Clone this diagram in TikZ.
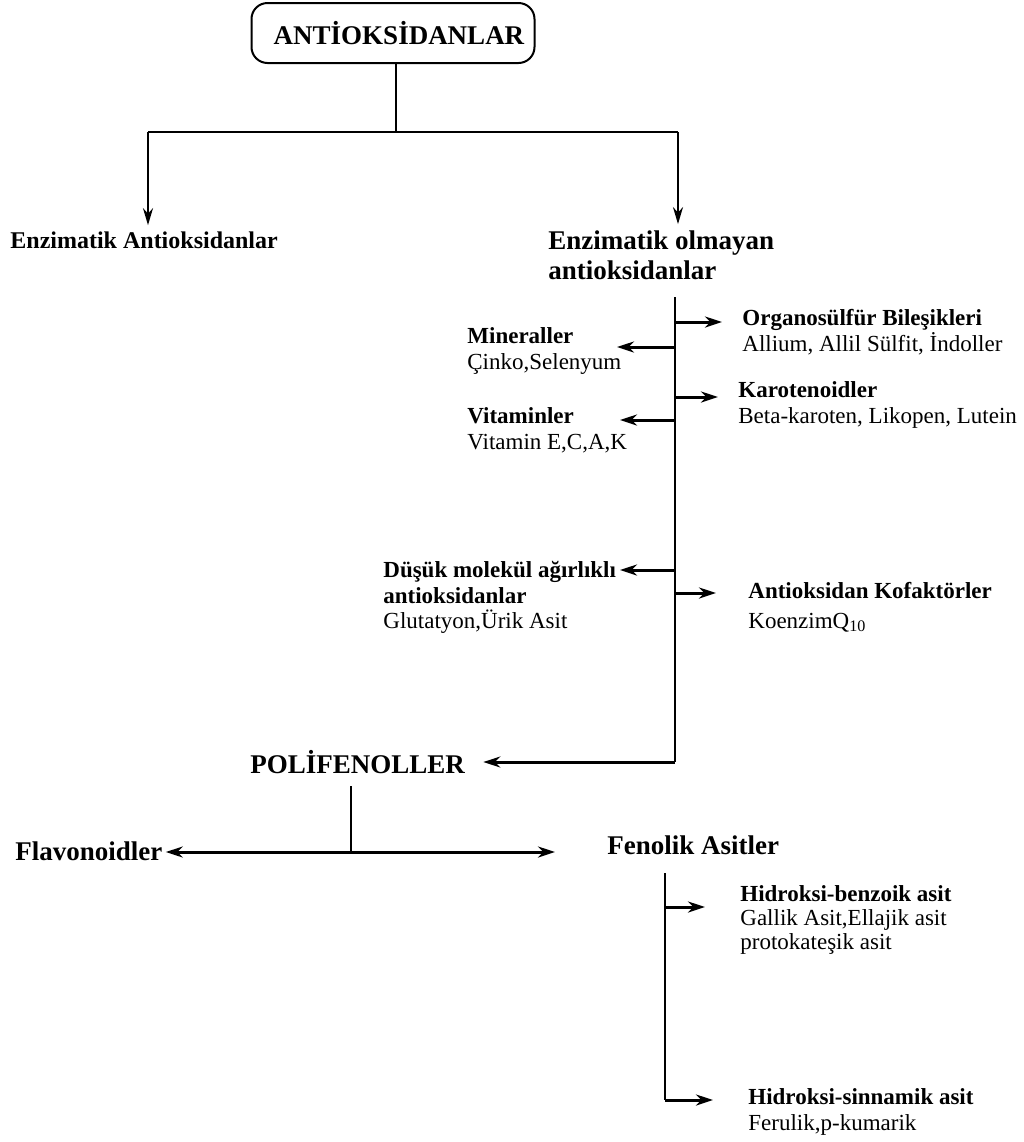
\documentclass[tikz,border=0pt]{standalone}
\usepackage{fontspec}
\setmainfont{Liberation Serif}
\usetikzlibrary{arrows.meta}

\tikzset{
	conn/.style={draw=black, line width=1.1pt},
	arr/.style={draw=black, line width=1.5pt, -{Stealth[length=8.5pt,width=5.5pt]}},
	downarr/.style={draw=black, line width=1.1pt, -{Stealth[length=8.5pt,width=5pt]}},
	twoarr/.style={draw=black, line width=1.5pt, {Stealth[length=8.5pt,width=5.5pt]}-{Stealth[length=8.5pt,width=5.5pt]}},
	head/.style={font=\fontsize{13.5}{15}\selectfont\bfseries, inner sep=0pt, align=left},
	item/.style={font=\fontsize{11.5}{12.8}\selectfont, inner sep=0pt, align=left},
}

\begin{document}
\begin{tikzpicture}[x=0.5pt,y=-0.5pt]
	\useasboundingbox (0,0) rectangle (1024,1142);

	% root and first split
	\node[draw=black, line width=1pt, rounded corners=8pt, minimum width=141.5pt, minimum height=30pt, font=\fontsize{13.5}{15}\selectfont\bfseries] (root) at (393,33) {\hspace{6pt}ANTİOKSİDANLAR};
	\coordinate (split) at (396,132);
	\coordinate (lsplit) at (148,132);
	\coordinate (rsplit) at (678,132);
	\node[head, font=\fontsize{12}{15}\selectfont\bfseries, anchor=west] (enz) at (10,240) {Enzimatik Antioksidanlar};
	\node[head, anchor=west] (nonenz) at (548,255) {Enzimatik olmayan\\antioksidanlar};

	\draw[conn] (split |- root.south) -- (split);
	\draw[conn] (lsplit) -- (rsplit);
	\draw[downarr, shorten >=3pt] (lsplit) -- (lsplit |- enz.north);
	\draw[downarr, shorten >=3pt] (rsplit) -- (rsplit |- nonenz.north);

	% non-enzymatic trunk
	\coordinate (ttop) at (675,297);
	\coordinate (tbot) at (675,762);
	\coordinate (b1) at (675,322);
	\coordinate (b2) at (675,347);
	\coordinate (b3) at (675,397);
	\coordinate (b4) at (675,420);
	\coordinate (b5) at (675,570);
	\coordinate (b6) at (675,593);
	\draw[conn] (ttop) -- (tbot);

	\node[item, anchor=west] (org) at (742,332) {\textbf{Organosülfür Bileşikleri}\\Allium, Allil Sülfit, İndoller};
	\node[item, anchor=west] (min) at (467,351) {\textbf{Mineraller}\\Çinko,Selenyum};
	\node[item, anchor=west] (kar) at (738,405) {\textbf{Karotenoidler}\\Beta-karoten, Likopen, Lutein};
	\node[item, anchor=west] (vit) at (467,430) {\textbf{Vitaminler}\\Vitamin E,C,A,K};
	\node[item, anchor=north west] (dus) at (383,561) {\textbf{Düşük molekül ağırlıklı}\\\textbf{antioksidanlar}\\Glutatyon,Ürik Asit};
	\node[item, anchor=north west] (kof) at (748,582) {\textbf{Antioksidan Kofaktörler}\\[2pt]KoenzimQ\textsubscript{10}};

	\draw[arr] (b1) -- ++(47,0);
	\draw[arr] (b2) -- ++(-58,0);
	\draw[arr] (b3) -- ++(43,0);
	\draw[arr] (b4) -- ++(-55,0);
	\draw[arr] (b5) -- ++(-55,0);
	\draw[arr] (b6) -- ++(41,0);

	% polyphenols
	\node[head, anchor=west] (poli) at (250,762) {POLİFENOLLER};
	\draw[arr, shorten >=9pt] (tbot) -- (tbot -| poli.east);

	\coordinate (psplit) at (351,852);
	\node[head, anchor=west] (flav) at (15,851) {Flavonoidler};
	\node[head, anchor=west] (fen) at (607,845) {Fenolik Asitler};
	\draw[conn, shorten <=6pt] (psplit |- poli.south) -- (psplit);
	\draw[twoarr, shorten <=1.5pt, shorten >=26pt] (psplit -| flav.east) -- (psplit -| fen.west);

	% phenolic acids
	\coordinate (ftop) at (665,873);
	\coordinate (fbot) at (665,1100);
	\coordinate (c1) at (665,907);
	\draw[conn] (ftop) -- (fbot);
	\node[item, font=\fontsize{11.5}{11.8}\selectfont, anchor=west] (hb) at (740,920) {\textbf{Hidroksi-benzoik asit}\\Gallik Asit,Ellajik asit\\protokateşik asit};
	\node[item, anchor=west] (hs) at (748,1112) {\textbf{Hidroksi-sinnamik asit}\\Ferulik,p-kumarik};
	\draw[arr] (c1) -- ++(40,0);
	\draw[arr] (fbot) -- ++(48,0);
\end{tikzpicture}
\end{document}
